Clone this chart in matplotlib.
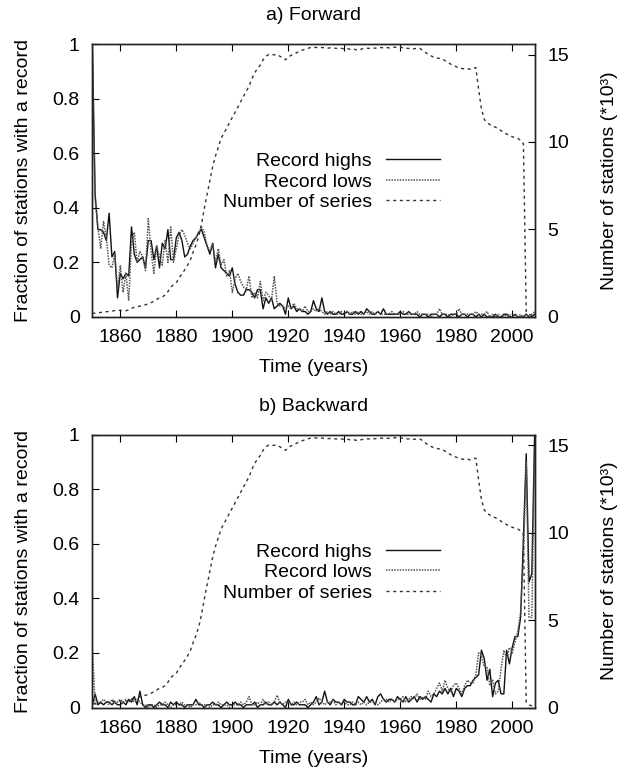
import numpy as np
import matplotlib
matplotlib.use("Agg")
import matplotlib.pyplot as plt

plt.rcParams['font.family'] = ['Liberation Sans', 'DejaVu Sans']

years = np.arange(1850, 2009)

# number of series, in thousands (same in both panels)
n_series = [
    0.20, 0.22, 0.24, 0.26, 0.28, 0.30, 0.32, 0.34, 0.36, 0.38,
    0.38, 0.38, 0.36, 0.40, 0.50, 0.55, 0.58, 0.62, 0.65, 0.70,
    0.75, 0.82, 0.90, 1.00, 1.10, 1.15, 1.25, 1.45, 1.70, 1.85,
    1.95, 2.25, 2.45, 2.70, 2.95, 3.25, 3.70, 4.10, 4.60, 5.30,
    6.20, 7.00, 7.80, 8.60, 9.20, 9.70, 10.20, 10.50, 10.80, 11.10,
    11.40, 11.70, 12.00, 12.30, 12.60, 12.90, 13.20, 13.60, 13.95, 14.20,
    14.40, 14.70, 14.90, 15.00, 15.00, 14.98, 15.00, 14.90, 14.80, 14.70,
    14.85, 14.95, 15.05, 15.10, 15.20, 15.25, 15.30, 15.35, 15.40, 15.42,
    15.40, 15.38, 15.40, 15.38, 15.36, 15.38, 15.35, 15.36, 15.33, 15.35,
    15.32, 15.34, 15.30, 15.32, 15.28, 15.25, 15.30, 15.35, 15.36, 15.35,
    15.38, 15.36, 15.38, 15.40, 15.38, 15.40, 15.38, 15.40, 15.42, 15.40,
    15.42, 15.38, 15.36, 15.35, 15.30, 15.33, 15.36, 15.35, 15.25, 15.12,
    15.00, 14.92, 14.85, 14.80, 14.78, 14.75, 14.65, 14.55, 14.45, 14.38,
    14.30, 14.25, 14.20, 14.18, 14.20, 14.15, 14.22, 14.25, 13.00, 11.90,
    11.30, 11.10, 11.00, 10.90, 10.85, 10.75, 10.65, 10.55, 10.45, 10.40,
    10.30, 10.25, 10.20, 10.10, 9.90, 0.30, 0.15, 0.10, 0.20,
]

# a) forward
fwd_highs = [
    1.00, 0.45, 0.32, 0.32, 0.31, 0.28, 0.38, 0.22, 0.24, 0.07,
    0.16, 0.14, 0.16, 0.15, 0.33, 0.23, 0.20, 0.21, 0.22, 0.18,
    0.28, 0.28, 0.21, 0.26, 0.18, 0.27, 0.25, 0.32, 0.21, 0.21,
    0.29, 0.31, 0.28, 0.22, 0.23, 0.26, 0.28, 0.29, 0.31, 0.32,
    0.29, 0.26, 0.23, 0.27, 0.18, 0.23, 0.18, 0.17, 0.16, 0.15,
    0.18, 0.12, 0.09, 0.08, 0.08, 0.10, 0.10, 0.09, 0.07, 0.10,
    0.10, 0.03, 0.07, 0.05, 0.07, 0.03, 0.04, 0.05, 0.04, 0.01,
    0.07, 0.03, 0.04, 0.02, 0.03, 0.02, 0.02, 0.01, 0.02, 0.06,
    0.03, 0.02, 0.07, 0.02, 0.01, 0.02, 0.01, 0.01, 0.02, 0.01,
    0.01, 0.02, 0.01, 0.01, 0.02, 0.01, 0.02, 0.01, 0.03, 0.02,
    0.01, 0.01, 0.02, 0.01, 0.03, 0.01, 0.01, 0.01, 0.01, 0.01,
    0.02, 0.01, 0.01, 0.02, 0.01, 0.01, 0.01, 0.00, 0.01, 0.01,
    0.00, 0.01, 0.01, 0.01, 0.00, 0.01, 0.01, 0.00, 0.01, 0.01,
    0.01, 0.00, 0.01, 0.01, 0.00, 0.01, 0.01, 0.00, 0.01, 0.00,
    0.01, 0.00, 0.00, 0.00, 0.01, 0.00, 0.00, 0.01, 0.01, 0.00,
    0.00, 0.01, 0.00, 0.00, 0.00, 0.01, 0.00, 0.00, 0.01,
]
fwd_lows = [
    1.00, 0.43, 0.33, 0.25, 0.35, 0.29, 0.19, 0.18, 0.23, 0.10,
    0.19, 0.09, 0.16, 0.06, 0.27, 0.31, 0.20, 0.24, 0.22, 0.17,
    0.36, 0.24, 0.16, 0.26, 0.22, 0.19, 0.28, 0.20, 0.33, 0.20,
    0.25, 0.30, 0.32, 0.30, 0.27, 0.25, 0.27, 0.29, 0.31, 0.33,
    0.31, 0.26, 0.24, 0.27, 0.20, 0.25, 0.19, 0.21, 0.15, 0.17,
    0.09, 0.14, 0.16, 0.13, 0.11, 0.10, 0.15, 0.07, 0.09, 0.07,
    0.13, 0.06, 0.09, 0.08, 0.06, 0.15, 0.05, 0.04, 0.04, 0.03,
    0.04, 0.03, 0.05, 0.03, 0.03, 0.02, 0.04, 0.02, 0.02, 0.03,
    0.02, 0.03, 0.02, 0.01, 0.02, 0.01, 0.02, 0.01, 0.01, 0.02,
    0.01, 0.02, 0.01, 0.02, 0.01, 0.02, 0.01, 0.01, 0.02, 0.01,
    0.02, 0.01, 0.02, 0.01, 0.01, 0.01, 0.01, 0.02, 0.01, 0.01,
    0.01, 0.02, 0.01, 0.01, 0.01, 0.01, 0.02, 0.01, 0.01, 0.01,
    0.01, 0.00, 0.01, 0.01, 0.03, 0.01, 0.01, 0.01, 0.00, 0.01,
    0.01, 0.03, 0.01, 0.01, 0.01, 0.01, 0.01, 0.02, 0.01, 0.01,
    0.01, 0.02, 0.00, 0.01, 0.00, 0.01, 0.00, 0.00, 0.01, 0.01,
    0.00, 0.01, 0.00, 0.01, 0.00, 0.01, 0.00, 0.01, 0.02,
]

# b) backward
bwd_highs = [
    0.01, 0.05, 0.01, 0.02, 0.01, 0.02, 0.02, 0.01, 0.02, 0.01,
    0.01, 0.02, 0.01, 0.03, 0.02, 0.04, 0.01, 0.06, 0.01, 0.00,
    0.01, 0.01, 0.00, 0.01, 0.02, 0.01, 0.01, 0.00, 0.02, 0.01,
    0.02, 0.01, 0.01, 0.00, 0.01, 0.01, 0.01, 0.03, 0.01, 0.01,
    0.00, 0.01, 0.01, 0.02, 0.01, 0.01, 0.00, 0.01, 0.02, 0.01,
    0.01, 0.02, 0.01, 0.01, 0.00, 0.01, 0.01, 0.01, 0.02, 0.00,
    0.01, 0.01, 0.02, 0.01, 0.01, 0.02, 0.01, 0.02, 0.01, 0.00,
    0.03, 0.01, 0.01, 0.02, 0.01, 0.01, 0.01, 0.00, 0.01, 0.02,
    0.04, 0.01, 0.02, 0.06, 0.02, 0.01, 0.03, 0.02, 0.02, 0.01,
    0.03, 0.02, 0.02, 0.01, 0.01, 0.04, 0.03, 0.02, 0.04, 0.02,
    0.03, 0.01, 0.04, 0.05, 0.03, 0.02, 0.03, 0.03, 0.02, 0.04,
    0.03, 0.02, 0.04, 0.02, 0.03, 0.04, 0.02, 0.04, 0.03, 0.04,
    0.03, 0.02, 0.05, 0.04, 0.06, 0.05, 0.07, 0.05, 0.07, 0.04,
    0.07, 0.06, 0.04, 0.07, 0.08, 0.08, 0.10, 0.11, 0.12, 0.21,
    0.18, 0.10, 0.14, 0.04, 0.09, 0.10, 0.05, 0.05, 0.21, 0.16,
    0.22, 0.26, 0.26, 0.33, 0.62, 0.93, 0.46, 0.49, 1.00,
]
bwd_lows = [
    0.22, 0.01, 0.02, 0.02, 0.03, 0.02, 0.01, 0.03, 0.02, 0.02,
    0.03, 0.02, 0.03, 0.02, 0.03, 0.02, 0.03, 0.02, 0.01, 0.01,
    0.00, 0.01, 0.01, 0.00, 0.01, 0.01, 0.02, 0.01, 0.00, 0.01,
    0.01, 0.01, 0.02, 0.01, 0.01, 0.00, 0.01, 0.01, 0.02, 0.01,
    0.01, 0.01, 0.00, 0.01, 0.01, 0.02, 0.01, 0.01, 0.01, 0.00,
    0.01, 0.01, 0.01, 0.02, 0.01, 0.02, 0.04, 0.01, 0.01, 0.02,
    0.01, 0.03, 0.01, 0.02, 0.01, 0.02, 0.045, 0.02, 0.01, 0.02,
    0.02, 0.01, 0.02, 0.01, 0.02, 0.02, 0.03, 0.01, 0.02, 0.01,
    0.02, 0.035, 0.02, 0.01, 0.02, 0.02, 0.025, 0.01, 0.02, 0.01,
    0.02, 0.01, 0.01, 0.02, 0.01, 0.02, 0.01, 0.02, 0.01, 0.02,
    0.02, 0.02, 0.01, 0.02, 0.03, 0.03, 0.02, 0.03, 0.02, 0.03,
    0.03, 0.04, 0.02, 0.03, 0.04, 0.03, 0.05, 0.03, 0.04, 0.03,
    0.06, 0.04, 0.05, 0.07, 0.09, 0.06, 0.10, 0.07, 0.06, 0.08,
    0.09, 0.07, 0.05, 0.08, 0.10, 0.09, 0.09, 0.12, 0.20, 0.19,
    0.15, 0.15, 0.08, 0.10, 0.05, 0.06, 0.14, 0.21, 0.18, 0.22,
    0.20, 0.24, 0.28, 0.35, 0.55, 0.90, 0.33, 0.33, 0.96,
]

fig = plt.figure(figsize=(6.28, 7.72), dpi=100)
FS = 14


def panel(rect, highs, lows, title):
    ax = fig.add_axes(rect)
    ax2 = ax.twinx()
    l1, = ax.plot(years, highs, color='#111111', lw=1.0, label='Record highs')
    l2, = ax.plot(years, lows, color='#555555', lw=1.1, linestyle=(0, (1, 0.8)),
                  label='Record lows')
    l3, = ax2.plot(years, n_series, color='#333333', lw=1.0, linestyle=(0, (2.2, 2.6)),
                   label='Number of series')
    ax.set_xlim(1850, 2008)
    ax.set_ylim(0, 1)
    ax2.set_ylim(0, 15.6)
    ax.set_xticks([1860, 1880, 1900, 1920, 1940, 1960, 1980, 2000])
    ax.set_yticks([0, 0.2, 0.4, 0.6, 0.8, 1])
    ax.set_yticklabels(['0', '0.2', '0.4', '0.6', '0.8', '1'])
    ax2.set_yticks([0, 5, 10, 15])
    ax.tick_params(axis='x', direction='in', length=5, top=True, labelsize=FS, pad=9)
    ax.tick_params(axis='y', direction='in', length=5, labelsize=FS, pad=9)
    ax2.tick_params(axis='y', direction='in', length=5, labelsize=FS, pad=9)
    for a in (ax, ax2):
        for s in a.spines.values():
            s.set_linewidth(1.0)
            s.set_color('#222222')
    ax.set_xlabel('Time (years)', fontsize=FS, labelpad=9)
    ax.set_ylabel('Fraction of stations with a record', fontsize=FS, labelpad=15)
    ax2.set_ylabel('Number of stations (*10³)', fontsize=FS, labelpad=23)
    ax.set_title(title, fontsize=FS, pad=17)
    ax2.legend(handles=[l1, l2, l3], loc='center right', bbox_to_anchor=(0.808, 0.495),
               frameon=False, markerfirst=False, fontsize=FS, borderpad=0,
               handlelength=2.8, handletextpad=0.7, labelspacing=0.15)
    return ax


panel([0.147, 0.5894, 0.7043, 0.3536], fwd_highs, fwd_lows, 'a) Forward')
panel([0.147, 0.0835, 0.7043, 0.3536], bwd_highs, bwd_lows, 'b) Backward')

fig.savefig('out.png', dpi=100)
